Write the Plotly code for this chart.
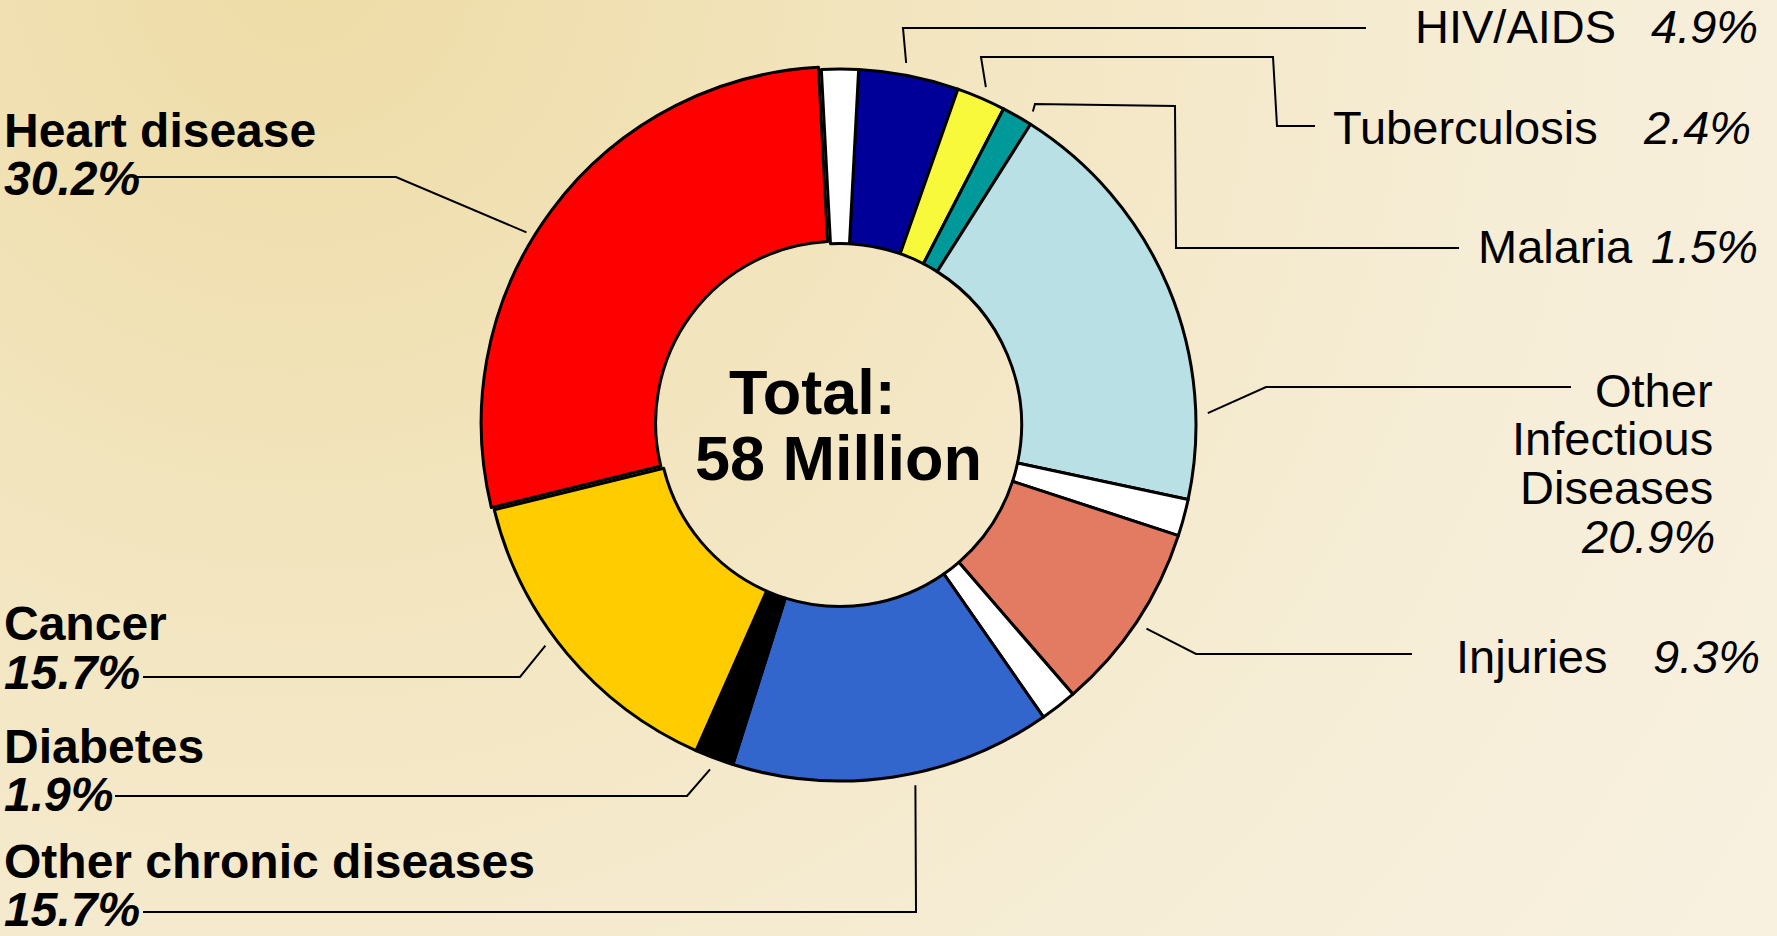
import base64
import math
import plotly.graph_objects as go

W, H = 1777, 936

# Causes of death, clockwise from the top of the ring
causes = ["HIV/AIDS", "Tuberculosis", "Malaria", "Other Infectious Diseases", "Injuries",
          "Other chronic diseases", "Diabetes", "Cancer", "Heart disease"]
shares = [4.9, 2.4, 1.5, 20.9, 9.3, 15.7, 1.9, 15.7, 30.2]
colors = ["#000099", "#F9F93C", "#009999", "#B9E0E4", "#E27B62",
          "#3366CC", "#000000", "#FFCC00", "#FF0000"]
# white separator wedges follow these causes
separated_after = ["Other Infectious Diseases", "Injuries", "Heart disease"]
separator_share = 1.8

total_label = ["Total:", "58 Million"]

# ring geometry (pixels)
CX, CY, R = 840, 425, 356
HOLE = 0.51
ROTATION = 3
HEART_PULL = 0.01

FONT = "Liberation Sans, Arial, sans-serif"
FS = 47
FS_LEFT = 48


def px(x):
    return x / W


def py(y):
    return 1 - y / H


# build the slice list including the white separators
vals, cols, pulls, names = [], [], [], []
for c, v, col in zip(causes, shares, colors):
    vals.append(v)
    cols.append(col)
    names.append(c)
    pulls.append(HEART_PULL if c == "Heart disease" else 0)
    if c in separated_after:
        vals.append(separator_share)
        cols.append("#FFFFFF")
        names.append("")
        pulls.append(0)

half = R * (1 + HEART_PULL)
fig = go.Figure(go.Pie(
    values=vals,
    labels=[n if n else f"sep{i}" for i, n in enumerate(names)],
    marker=dict(colors=cols, line=dict(color="#000000", width=3)),
    hole=HOLE,
    sort=False,
    direction="clockwise",
    rotation=ROTATION,
    pull=pulls,
    textinfo="none",
    hoverinfo="skip",
    showlegend=False,
    domain=dict(x=[px(CX - half), px(CX + half)], y=[py(CY + half), py(CY - half)]),
))

# leader-line anchors on the ring
deg_per_unit = 360.0 / sum(vals)
cum = {}
acc = 0.0
for n, v in zip(names, vals):
    if n:
        cum[n] = (acc, v)
    acc += v


def ring_point(cause, frac, offset):
    start, v = cum[cause]
    ang = math.radians(ROTATION + deg_per_unit * (start + frac * v))
    r = R + offset
    return CX + r * math.sin(ang), CY - r * math.cos(ang)


leader_frac = {"HIV/AIDS": 0.45, "Tuberculosis": 0.5, "Malaria": 0.85,
               "Other Infectious Diseases": 0.8, "Injuries": 0.5,
               "Other chronic diseases": 0.44, "Diabetes": 0.5, "Cancer": 0.56,
               "Heart disease": 0.45}
leader_route = {
    "HIV/AIDS": [(1366, 28), (903, 28)],
    "Tuberculosis": [(1315, 126), (1277, 126), (1273, 57), (981, 57)],
    "Malaria": [(1459, 248), (1176, 248), (1175, 106), (1035, 104)],
    "Other Infectious Diseases": [(1571, 387), (1266, 387)],
    "Injuries": [(1412, 654), (1196, 654)],
    "Other chronic diseases": [(143, 912), (916, 912)],
    "Diabetes": [(115, 796), (687, 796)],
    "Cancer": [(143, 677), (520, 677)],
    "Heart disease": [(136, 177), (396, 177)],
}

for c in causes:
    pts = list(leader_route[c]) + [ring_point(c, leader_frac[c], 12)]
    path = "M " + " L ".join(f"{px(x):.5f},{py(y):.5f}" for x, y in pts)
    fig.add_shape(type="path", path=path, xref="paper", yref="paper",
                  line=dict(color="#000000", width=2))

ann = []


def text(x, y_base, s, anchor, size=FS):
    ann.append(dict(x=px(x), y=py(y_base - 0.347 * size), xref="paper", yref="paper",
                    text=s, showarrow=False, xanchor=anchor, yanchor="middle",
                    borderpad=0, font=dict(family=FONT, size=size, color="#000000")))


share_of = dict(zip(causes, shares))

# left-hand labels: bold name over bold italic share
left_rows = [("Heart disease", 147, 195), ("Cancer", 640, 689),
             ("Diabetes", 763, 811), ("Other chronic diseases", 878, 926)]
for c, yb1, yb2 in left_rows:
    text(3, yb1, f"<b>{c}</b>", "left", size=FS_LEFT)
    text(3, yb2, f"<b><i>{share_of[c]}%</i></b>", "left", size=FS_LEFT)

# right-hand labels: name, then italic share
right_rows = [("HIV/AIDS", 1617, 1759, 43), ("Tuberculosis", 1599, 1752, 144),
              ("Malaria", 1634, 1759, 263), ("Injuries", 1609, 1761, 673)]
for c, xname, xpct, yb in right_rows:
    text(xname, yb, c, "right")
    text(xpct, yb, f"<i>{share_of[c]}%</i>", "right")

for word, yb in zip(["Other", "Infectious", "Diseases"], [407, 455, 504]):
    text(1714, yb, word, "right")
text(1716, 553, f"<i>{share_of['Other Infectious Diseases']}%</i>", "right")

# centre caption
text(812, 414, f"<b>{total_label[0]}</b>", "center", size=63)
text(838, 480, f"<b>{total_label[1]}</b>", "center", size=63)

# soft golden backdrop, warmest in the upper left
svg = f"""<svg xmlns="http://www.w3.org/2000/svg" width="{W}" height="{H}" viewBox="0 0 {W} {H}" preserveAspectRatio="none">
<defs><radialGradient id="g" gradientUnits="userSpaceOnUse" cx="300" cy="-40" r="1750">
<stop offset="0" stop-color="#EEDCA6"/>
<stop offset="0.4" stop-color="#F3E6C2"/>
<stop offset="0.7" stop-color="#F6EDD6"/>
<stop offset="1" stop-color="#F8F1E0"/>
</radialGradient></defs>
<rect x="0" y="0" width="{W}" height="{H}" fill="url(#g)"/></svg>"""
bg = "data:image/svg+xml;base64," + base64.b64encode(svg.encode()).decode()

fig.update_layout(
    width=W, height=H,
    margin=dict(l=0, r=0, t=0, b=0),
    paper_bgcolor="#F5EBD0",
    plot_bgcolor="rgba(0,0,0,0)",
    annotations=ann,
    images=[dict(source=bg, xref="paper", yref="paper", x=0, y=1, sizex=1, sizey=1,
                 xanchor="left", yanchor="top", sizing="stretch", layer="below")],
)

fig.write_html("out.html")
